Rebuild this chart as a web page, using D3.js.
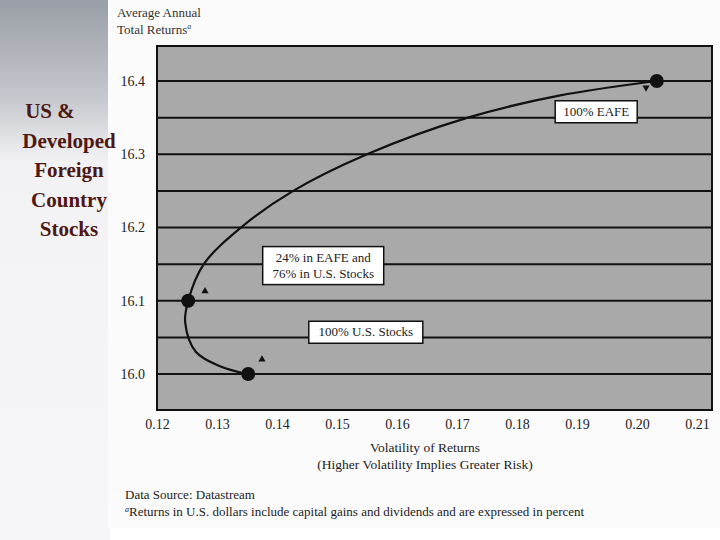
<!DOCTYPE html>
<html><head><meta charset="utf-8">
<script src="https://cdn.jsdelivr.net/npm/d3@7"></script>
<style>body{margin:0;background:#fff}</style>
</head><body><div id="chart"></div>
<script>
// portfolio mix points
var points = [
  {x: 0.1352, y: 16.0},
  {x: 0.1252, y: 16.1},
  {x: 0.2033, y: 16.4}
];
// efficient frontier curve
var frontierX = [0.1352, 0.1307, 0.1265, 0.1247, 0.1252, 0.1278, 0.134, 0.1427, 0.155, 0.1718, 0.187, 0.2033];
var frontierY = [16.0, 16.01, 16.03, 16.07, 16.1, 16.15, 16.2, 16.25, 16.3, 16.35, 16.38, 16.4];
var xTicks = [0.12, 0.13, 0.14, 0.15, 0.16, 0.17, 0.18, 0.19, 0.20, 0.21];
var yTicks = [16.0, 16.1, 16.2, 16.3, 16.4];
var gridLines = [16.0, 16.05, 16.1, 16.15, 16.2, 16.25, 16.3, 16.35, 16.4];
var labels = [
  {lines: ["100% EAFE"], x: 0.1932, y: 16.358, w: 82},
  {lines: ["24% in EAFE and", "76% in U.S. Stocks"], x: 0.1477, y: 16.148, w: 121},
  {lines: ["100% U.S. Stocks"], x: 0.1548, y: 16.057, w: 114}
];
var markers = [
  {x: 0.2015, y: 16.391, dir: "down"},
  {x: 0.128, y: 16.113, dir: "up"},
  {x: 0.1375, y: 16.02, dir: "up"}
];

var serif = "'Liberation Serif', 'DejaVu Serif', serif";
var width = 720, height = 540;
var svg = d3.select("#chart").append("svg").attr("width", width).attr("height", height)
  .attr("font-family", serif);

// left slide panel
var defs = svg.append("defs");
var grad = defs.append("linearGradient").attr("id", "lg").attr("x1", 0).attr("y1", 0).attr("x2", 0).attr("y2", 1);
grad.append("stop").attr("offset", "0%").attr("stop-color", "#9a9ea6");
grad.append("stop").attr("offset", "18%").attr("stop-color", "#c4c7cc");
grad.append("stop").attr("offset", "30%").attr("stop-color", "#f2f2f4");
grad.append("stop").attr("offset", "100%").attr("stop-color", "#f6f6f8");
svg.append("rect").attr("width", 110).attr("height", height).attr("fill", "url(#lg)");
svg.append("rect").attr("x", 108).attr("width", width - 108).attr("height", 528).attr("fill", "#fbfbfb");

var title = ["US &", "Developed", "Foreign", "Country", "Stocks"];
var tx = [50, 69, 69, 69, 69];
svg.append("g").selectAll("text").data(title).enter().append("text")
  .attr("x", function(d, i) { return tx[i]; })
  .attr("y", function(d, i) { return 118 + i * 29.5; })
  .attr("text-anchor", "middle")
  .style("font-size", "21px").style("font-weight", "bold").attr("fill", "#4e1712")
  .text(function(d) { return d; });

var x = d3.scaleLinear().domain([0.12, 0.2125]).range([157, 712]);
var y = d3.scaleLinear().domain([16.0, 16.4]).range([374, 81]);

svg.append("rect").attr("x", 157).attr("y", 46).attr("width", 555).attr("height", 364)
  .attr("fill", "#a9a9a9").attr("stroke", "#111").attr("stroke-width", 2);

svg.append("g").selectAll("line").data(gridLines).enter().append("line")
  .attr("x1", 157).attr("x2", 712)
  .attr("y1", function(d) { return y(d); }).attr("y2", function(d) { return y(d); })
  .attr("stroke", "#111").attr("stroke-width", 2);

var xAxis = svg.append("g").attr("transform", "translate(0,410)")
  .call(d3.axisBottom(x).tickValues(xTicks).tickSize(0).tickPadding(9).tickFormat(d3.format(".2f")));
xAxis.attr("font-family", serif).attr("font-size", 14);
xAxis.select(".domain").remove();
xAxis.selectAll("text").attr("fill", "#222");

var yAxis = svg.append("g").attr("transform", "translate(145,0)")
  .call(d3.axisLeft(y).tickValues(yTicks).tickSize(0).tickPadding(0).tickFormat(d3.format(".1f")));
yAxis.attr("font-family", serif).attr("font-size", 14);
yAxis.select(".domain").remove();
yAxis.selectAll("text").attr("fill", "#222");

var line = d3.line().curve(d3.curveCatmullRom)
  .x(function(d, i) { return x(frontierX[i]); })
  .y(function(d, i) { return y(frontierY[i]); });
svg.append("path").attr("d", line(frontierX)).attr("fill", "none").attr("stroke", "#111").attr("stroke-width", 2.2);

svg.append("g").selectAll("circle").data(points).enter().append("circle")
  .attr("cx", function(d) { return x(d.x); }).attr("cy", function(d) { return y(d.y); })
  .attr("r", 7).attr("fill", "#111");

svg.append("g").selectAll("path").data(markers).enter().append("path")
  .attr("d", d3.symbol().type(d3.symbolTriangle).size(22))
  .attr("transform", function(d) { return "translate(" + x(d.x) + "," + y(d.y) + ")" + (d.dir === "down" ? " rotate(180)" : ""); })
  .attr("fill", "#111");

var lab = svg.append("g").selectAll("g").data(labels).enter().append("g")
  .attr("transform", function(d) { return "translate(" + x(d.x) + "," + y(d.y) + ")"; });
lab.append("rect").attr("x", function(d) { return -d.w / 2; }).attr("y", function(d) { return -d.lines.length * 8 - 3; })
  .attr("width", function(d) { return d.w; }).attr("height", function(d) { return d.lines.length * 16 + 6; })
  .attr("fill", "#fff").attr("stroke", "#111").attr("stroke-width", 1.5);
lab.each(function(d) {
  d3.select(this).selectAll("text").data(d.lines).enter().append("text")
    .attr("x", 0).attr("y", function(t, i) { return -d.lines.length * 8 + 12 + i * 16; })
    .attr("text-anchor", "middle").style("font-size", "13px").attr("fill", "#222")
    .text(function(t) { return t; });
});

svg.append("text").attr("x", 117).attr("y", 17).style("font-size", "13px").attr("fill", "#333").text("Average Annual");
svg.append("text").attr("x", 117).attr("y", 34).style("font-size", "13px").attr("fill", "#333")
  .text("Total Returns").append("tspan").attr("dy", -5).style("font-size", "8px").style("font-style", "italic").text("a");

svg.append("text").attr("x", 425).attr("y", 452).attr("text-anchor", "middle").style("font-size", "13.5px").attr("fill", "#222").text("Volatility of Returns");
svg.append("text").attr("x", 425).attr("y", 469).attr("text-anchor", "middle").style("font-size", "13.5px").attr("fill", "#222").text("(Higher Volatility Implies Greater Risk)");
svg.append("text").attr("x", 125).attr("y", 499).style("font-size", "13px").attr("fill", "#222").text("Data Source: Datastream");
var fn = svg.append("text").attr("x", 125).attr("y", 516).style("font-size", "13px").attr("fill", "#222");
fn.append("tspan").attr("dy", -4).style("font-size", "8px").style("font-style", "italic").text("a");
fn.append("tspan").attr("dy", 4).text("Returns in U.S. dollars include capital gains and dividends and are expressed in percent");
</script>
</body></html>
